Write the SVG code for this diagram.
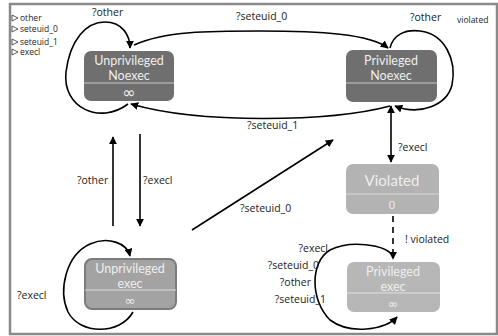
<svg xmlns="http://www.w3.org/2000/svg" width="498" height="336" viewBox="0 0 498 336">
<defs>
<marker id="ah" viewBox="0 0 10 10" refX="9" refY="5" markerWidth="8" markerHeight="8" markerUnits="userSpaceOnUse" orient="auto-start-reverse">
<path d="M0,0 L10,5 L0,10 Z" fill="#000"/>
</marker>
<style>
.e{fill:none;stroke:#000;stroke-width:1.6}
.l{font-family:"Open Sans","Noto Sans",sans-serif;font-size:10.5px;fill:#222}
.lg{font-family:"Open Sans","Noto Sans",sans-serif;font-size:8.5px;fill:#222}
.nt{font-family:Lato,"Open Sans",sans-serif;font-size:12.5px;text-anchor:middle;fill:#eee}
.ns{font-family:"DejaVu Sans",sans-serif;font-size:16px;text-anchor:middle;fill:#eee}
.dk{fill:#6f6f6f}
.div{stroke:#c8c8c8;stroke-width:1.2}
</style>
</defs>
<rect x="0" y="0" width="498" height="336" fill="#fff"/>
<rect x="10" y="4" width="487" height="330" fill="#fff" stroke="#8a8a8a" stroke-width="2.5"/>

<g id="legend">
<path d="M12,15 L18,18 L12,21 Z" fill="none" stroke="#333" stroke-width="0.8"/>
<text class="lg" x="20" y="21">other</text>
<path d="M12,26 L18,29 L12,32 Z" fill="none" stroke="#333" stroke-width="0.8"/>
<text class="lg" x="20" y="32">seteuid_0</text>
<path d="M12,39 L18,42 L12,45 Z" fill="none" stroke="#333" stroke-width="0.8"/>
<text class="lg" x="20" y="45">seteuid_1</text>
<path d="M12,49 L18,52 L12,55 Z" fill="none" stroke="#333" stroke-width="0.8"/>
<text class="lg" x="20" y="55">execl</text>
<text class="lg" x="457" y="23">violated</text>
</g>

<g id="connectors">
<path class="e" d="M128,104 C100,125 62,108 66,72 C70,40 86,22 105,22 C122,22 130,35 130,48" marker-end="url(#ah)"/>
<path class="e" d="M134,45 C165,31 210,31 260,31 C320,31 370,34 388,48" marker-end="url(#ah)"/>
<path class="e" d="M390,48 C393,35 405,29 420,31 C445,34 457,60 452,85 C447,105 420,116 395,106" marker-end="url(#ah)"/>
<path class="e" d="M390,106 C330,122 200,124 131,104" marker-end="url(#ah)"/>
<line class="e" x1="391" y1="106" x2="391" y2="162" marker-start="url(#ah)" marker-end="url(#ah)"/>
<line class="e" x1="393" y1="216" x2="393" y2="259" stroke-dasharray="6,5" marker-end="url(#ah)"/>
<line class="e" x1="113" y1="226" x2="113" y2="137" marker-end="url(#ah)"/>
<line class="e" x1="140" y1="134" x2="140" y2="226" marker-end="url(#ah)"/>
<line class="e" x1="192" y1="230" x2="333" y2="140" marker-end="url(#ah)"/>
<path class="e" d="M133,312 C120,335 80,335 68,312 C58,290 66,255 90,244 C108,236 127,243 130,256" marker-end="url(#ah)"/>
<path class="e" d="M393,256 C385,244 350,240 330,250 C310,262 310,300 330,320 C350,335 385,330 397,317" marker-end="url(#ah)"/>
<text class="l" x="92" y="16">?other</text>
<text class="l" x="236" y="20">?seteuid_0</text>
<text class="l" x="410" y="21">?other</text>
<text class="l" x="247" y="129">?seteuid_1</text>
<text class="l" x="398" y="151">?execl</text>
<text class="l" x="77" y="184">?other</text>
<text class="l" x="143" y="184">?execl</text>
<text class="l" x="240" y="212">?seteuid_0</text>
<text class="l" x="405" y="243">! violated</text>
<text class="l" x="17" y="299">?execl</text>
<text class="l" x="328" y="252" text-anchor="end">?execl</text>
<text class="l" x="319" y="269" text-anchor="end">?seteuid_0</text>
<text class="l" x="311" y="286" text-anchor="end">?other</text>
<text class="l" x="326" y="303" text-anchor="end">?seteuid_1</text>
</g>

<g id="unpriv_noexec">
<rect class="dk" x="84" y="51" width="90" height="50" rx="7"/>
<line class="div" x1="84" y1="83" x2="174" y2="83"/>
<text class="nt" x="129" y="65">Unprivileged</text>
<text class="nt" x="129" y="80">Noexec</text>
<text class="ns" x="129" y="98">∞</text>
</g>

<g id="priv_noexec">
<rect class="dk" x="346" y="50" width="91" height="52" rx="7"/>
<line class="div" x1="346" y1="83" x2="437" y2="83"/>
<text class="nt" x="391" y="65">Privileged</text>
<text class="nt" x="391" y="80">Noexec</text>
</g>

<g id="violated">
<rect x="346" y="164" width="93" height="50" rx="7" fill="#b3b3b3"/>
<line x1="346" y1="194" x2="439" y2="194" stroke="#dadada" stroke-width="1.2"/>
<text class="nt" x="392" y="186" style="font-size:15px">Violated</text>
<text class="nt" x="392" y="209" style="font-size:11px">0</text>
</g>

<g id="unpriv_exec">
<rect x="85" y="259" width="91" height="50" rx="7" fill="#a3a3a3" stroke="#7c7c7c" stroke-width="2"/>
<line x1="85" y1="290" x2="176" y2="290" stroke="#dcdcdc" stroke-width="1.2"/>
<text class="nt" x="130" y="273">Unprivileged</text>
<text class="nt" x="130" y="288">exec</text>
<text class="ns" x="130" y="305" style="font-size:13px">∞</text>
</g>

<g id="priv_exec">
<rect x="347" y="262" width="93" height="50" rx="7" fill="#b7b7b7"/>
<line x1="347" y1="293" x2="440" y2="293" stroke="#e2e2e2" stroke-width="1.2"/>
<text class="nt" x="393" y="276">Privileged</text>
<text class="nt" x="393" y="291">exec</text>
<text class="ns" x="393" y="308" style="font-size:12px">∞</text>
</g>
</svg>
